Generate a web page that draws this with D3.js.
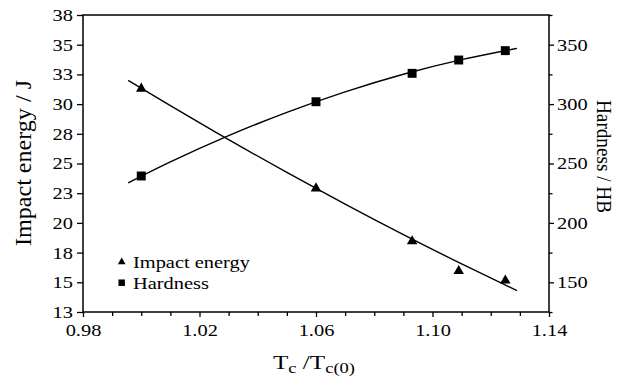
<!DOCTYPE html>
<html><head><meta charset="utf-8">
<script src="https://cdn.jsdelivr.net/npm/d3@7/dist/d3.min.js"></script>
<style>
html,body{margin:0;padding:0;background:#fff;}
</style></head>
<body><svg id="c" width="617" height="376"></svg>
<script>
// ---- data ----
const xValues = [1.00, 1.06, 1.093, 1.109, 1.125];
const impactEnergy = [31.3, 22.9, 18.45, 15.95, 15.15];
const hardness = [239.5, 302, 325.9, 337.1, 345];
// fitted curves
const fitX = [0.9955, 1.01, 1.03, 1.05, 1.07, 1.09, 1.11, 1.129];
const impactFit = [32.0, 29.88, 27.01, 24.25, 21.58, 19.01, 16.55, 14.3];
const hardnessFit = [233.6, 251.3, 273.4, 293.1, 310.3, 325.1, 337.4, 346.9];
// ticks
const xMajorTicks = [0.98, 1.02, 1.06, 1.10, 1.14];
const xTickLabels = ["0.98", "1.02", "1.06", "1.10", "1.14"];
const xMinorTicks = [0.99,1.00,1.01,1.03,1.04,1.05,1.07,1.08,1.09,1.11,1.12,1.13];
const leftTicks = [12.5,15,17.5,20,22.5,25,27.5,30,32.5,35,37.5];
const leftTickLabels = ["13","15","18","20","23","25","28","30","33","35","38"];
const rightTicks = [150,200,250,300,350];
const rightMinorTicks = [125,175,225,275,325,375];
const seriesNames = ["Impact energy", "Hardness"];

const FONT = "'Liberation Serif', 'Times New Roman', Times, serif";
const svg = d3.select("#c").style("font-family", FONT);
const L = 83, R = 549, T = 15, B = 312;
const x = d3.scaleLinear().domain([0.98, 1.14]).range([L, R]);
const yL = d3.scaleLinear().domain([12.5, 37.5]).range([B, T]);
const yR = d3.scaleLinear().domain([125, 375]).range([B, T]);

function stretch(sel, k){
  sel.each(function(){
    const w = this.getComputedTextLength();
    this.setAttribute("textLength", w*k);
    this.setAttribute("lengthAdjust","spacingAndGlyphs");
  });
}
function styleAxis(g){
  g.attr("font-family", null).attr("font-size", null);
  g.select(".domain").remove();
  g.selectAll("line").attr("stroke","#000").attr("stroke-width",1.3);
  g.selectAll("text").attr("font-size",17).style("font-family",FONT).attr("fill","#000");
}

// frame
svg.append("rect").attr("x",L).attr("y",T).attr("width",R-L).attr("height",B-T)
  .attr("fill","none").attr("stroke","#000").attr("stroke-width",1.5);

// bottom axis
const gx = svg.append("g").attr("transform",`translate(0,${B})`)
  .call(d3.axisBottom(x).tickValues(xMajorTicks).tickFormat((d,i)=>xTickLabels[i]).tickSize(5).tickPadding(7));
styleAxis(gx);
const gxm = svg.append("g").attr("transform",`translate(0,${B})`)
  .call(d3.axisBottom(x).tickValues(xMinorTicks).tickFormat("").tickSize(4));
styleAxis(gxm);

// left axis
const gl = svg.append("g").attr("transform",`translate(${L},0)`)
  .call(d3.axisLeft(yL).tickValues(leftTicks).tickFormat((d,i)=>leftTickLabels[i]).tickSize(6).tickPadding(4));
styleAxis(gl);

// right axis
const gr = svg.append("g").attr("transform",`translate(${R},0)`)
  .call(d3.axisRight(yR).tickValues(rightTicks).tickFormat(d3.format("d")).tickSize(5).tickPadding(3));
styleAxis(gr);
const grm = svg.append("g").attr("transform",`translate(${R},0)`)
  .call(d3.axisRight(yR).tickValues(rightMinorTicks).tickFormat("").tickSize(3.5));
styleAxis(grm);

stretch(svg.selectAll("g text"), 1.2);

// fitted curves
const lineL = d3.line().x((d,i)=>x(fitX[i])).y(d=>yL(d)).curve(d3.curveNatural);
const lineR = d3.line().x((d,i)=>x(fitX[i])).y(d=>yR(d)).curve(d3.curveNatural);
svg.append("path").attr("d", lineL(impactFit)).attr("fill","none").attr("stroke","#000").attr("stroke-width",1.4);
svg.append("path").attr("d", lineR(hardnessFit)).attr("fill","none").attr("stroke","#000").attr("stroke-width",1.4);

// markers
const tri = d3.symbol().type(d3.symbolTriangle).size(48);
const sq = d3.symbol().type(d3.symbolSquare).size(80);
svg.selectAll(".tri").data(impactEnergy).join("path").attr("class","tri")
  .attr("d", tri).attr("transform",(d,i)=>`translate(${x(xValues[i])},${yL(d)})`).attr("fill","#000");
svg.selectAll(".sq").data(hardness).join("path").attr("class","sq")
  .attr("d", sq).attr("transform",(d,i)=>`translate(${x(xValues[i])},${yR(d)})`).attr("fill","#000");

// legend
const lg = svg.append("g");
lg.append("path").attr("d", d3.symbol().type(d3.symbolTriangle).size(26)).attr("transform","translate(121.7,262)");
lg.append("path").attr("d", d3.symbol().type(d3.symbolSquare).size(42)).attr("transform","translate(121.7,282.7)");
const lt = lg.selectAll("text").data(seriesNames).join("text")
  .attr("x",133).attr("y",(d,i)=>267.5+i*21).attr("font-size",17).style("font-family",FONT).text(d=>d);
stretch(lt, 1.2);

// axis titles
const tl = svg.append("text").attr("transform","translate(31,163) rotate(-90)")
  .attr("text-anchor","middle").attr("font-size",23).style("font-family",FONT).text("Impact energy / J");
tl.attr("textLength",166).attr("lengthAdjust","spacingAndGlyphs");
const tr = svg.append("text").attr("transform","translate(597,156.5) rotate(90)")
  .attr("text-anchor","middle").attr("font-size",21).style("font-family",FONT).text("Hardness / HB");
tr.attr("textLength",113).attr("lengthAdjust","spacingAndGlyphs");

const tx = svg.append("text").attr("x",273).attr("y",368.5).attr("font-size",19).style("font-family",FONT);
tx.append("tspan").text("T");
tx.append("tspan").attr("font-size",14).attr("dy",4).text("c");
tx.append("tspan").attr("dy",-4).text(" /T");
tx.append("tspan").attr("font-size",14).attr("dy",4).text("c(0)");
tx.attr("textLength",82).attr("lengthAdjust","spacingAndGlyphs");
</script></body></html>
